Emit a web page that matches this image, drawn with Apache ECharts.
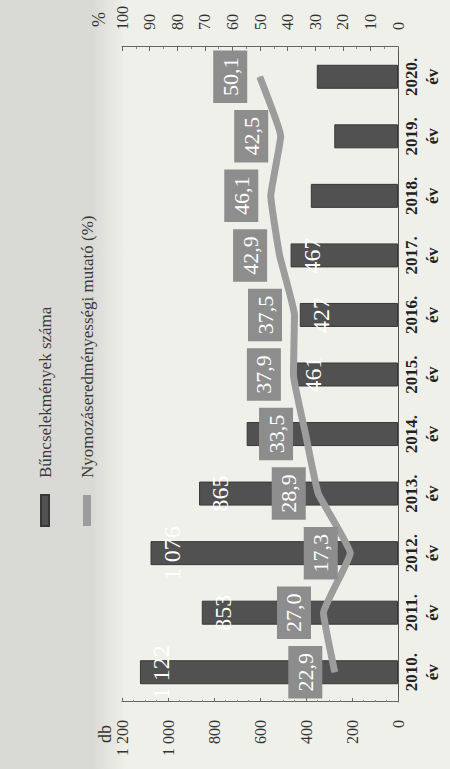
<!DOCTYPE html>
<html>
<head>
<meta charset="utf-8">
<script src="https://cdn.jsdelivr.net/npm/echarts@6/dist/echarts.min.js"></script>
<style>
  html, body { margin: 0; padding: 0; width: 450px; height: 769px; overflow: hidden; background: #dadad7; }
  /* the chart is drawn upright (769 x 450) and then turned on its side like the scan */
  #chart {
    position: absolute; left: 0; top: 0;
    width: 769px; height: 450px;
    transform-origin: 0 0;
    transform: translate(0, 769px) rotate(-90deg);
    background: linear-gradient(to bottom, #d9d9d6 0, #d9d9d6 92px, #f0f0ea 126px, #f0f0ea 100%);
  }
</style>
</head>
<body>
<div id="chart"></div>
<script>
// évek
const years = ["2010", "2011", "2012", "2013", "2014", "2015", "2016", "2017", "2018", "2019", "2020"];
// bűncselekmények száma (db)
const crimes = [1122, 853, 1076, 865, 658, 461, 427, 467, 379, 277, 353];
// nyomozáseredményességi mutató (%)
const rate = [22.9, 27.0, 17.3, 28.9, 33.5, 37.9, 37.5, 42.9, 46.1, 42.5, 50.1];
// oszlopok, amelyeken látszik a felirat
const barLabelShown = [true, true, true, true, true, true, true, true, false, false, false];

const serif = "'Liberation Serif', 'DejaVu Serif', serif";

function spaced(v) {
  return String(v).replace(/\B(?=(\d{3})+(?!\d))/g, " ");
}

const chart = echarts.init(document.getElementById("chart"), null, { renderer: "svg" });

chart.setOption({
  backgroundColor: "transparent",
  animation: false,
  textStyle: { fontFamily: serif },
  legend: {
    orient: "vertical",
    left: 237,
    top: 31,
    itemWidth: 31,
    itemHeight: 8,
    itemGap: 24,
    textStyle: { fontFamily: serif, fontSize: 17, color: "#3a3a3a", lineHeight: 18, padding: [0, 0, 0, 12] },
    data: [
      { name: "Bűncselekmények száma", icon: "rect" },
      { name: "Nyomozáseredményességi mutató (%)", icon: "rect" },
    ],
  },
  grid: { left: 67, right: 47, top: 122, bottom: 52 },
  xAxis: {
    type: "category",
    data: years,
    axisLine: { lineStyle: { color: "#555", width: 1 } },
    axisTick: { show: false },
    axisLabel: {
      margin: 3,
      fontFamily: serif,
      fontSize: 17,
      fontWeight: "bold",
      color: "#222",
      lineHeight: 21,
      formatter: (v) => v + ".\név",
    },
  },
  yAxis: [
    {
      type: "value",
      min: 0,
      max: 1200,
      interval: 200,
      position: "left",
      name: "db",
      nameLocation: "end",
      nameGap: 6,
      nameTextStyle: { fontFamily: serif, fontSize: 18, color: "#333", align: "right", padding: [0, 23, 0, 0] },
      axisLine: { show: true, lineStyle: { color: "#666" } },
      axisTick: { show: true, inside: true, length: 4, lineStyle: { color: "#666" } },
      minorTick: { show: true, splitNumber: 4, length: 2, lineStyle: { color: "#888" } },
      splitLine: { show: false },
      axisLabel: { margin: 18, fontFamily: serif, fontSize: 16, color: "#333", formatter: spaced },
    },
    {
      type: "value",
      min: 0,
      max: 100,
      interval: 10,
      position: "right",
      name: "%",
      nameLocation: "end",
      nameGap: 14,
      nameTextStyle: { fontFamily: serif, fontSize: 18, color: "#333", align: "left", padding: [0, 0, 0, 20] },
      axisLine: { show: true, lineStyle: { color: "#666" } },
      axisTick: { show: true, inside: true, length: 4, lineStyle: { color: "#666" } },
      minorTick: { show: true, splitNumber: 2, length: 2, lineStyle: { color: "#888" } },
      splitLine: { show: false },
      axisLabel: { margin: 17, fontFamily: serif, fontSize: 16, color: "#333" },
    },
  ],
  series: [
    {
      name: "Bűncselekmények száma",
      type: "bar",
      yAxisIndex: 0,
      barWidth: 24,
      data: crimes.map((v, i) => ({ value: v, label: { show: barLabelShown[i] } })),
      itemStyle: { color: "#515151", borderColor: "#383838", borderWidth: 1 },
      label: {
        show: true,
        position: "insideTop",
        distance: 9,
        color: "#fff",
        fontFamily: serif,
        fontSize: 24,
        formatter: (p) => spaced(p.value),
      },
    },
    {
      name: "Nyomozáseredményességi mutató (%)",
      type: "line",
      yAxisIndex: 1,
      data: rate,
      smooth: 0.1,
      symbol: "circle",
      symbolSize: 1,
      showSymbol: true,
      z: 3,
      itemStyle: { color: "#9c9c9c" },
      lineStyle: { color: "#9c9c9c", width: 7 },
      label: {
        show: true,
        position: "top",
        distance: 12,
        color: "#fff",
        backgroundColor: "#8d8d8d",
        padding: [4, 7],
        lineHeight: 26,
        fontFamily: serif,
        fontSize: 22,
        formatter: (p) => p.value.toFixed(1).replace(".", ","),
      },
    },
  ],
});
</script>
</body>
</html>
